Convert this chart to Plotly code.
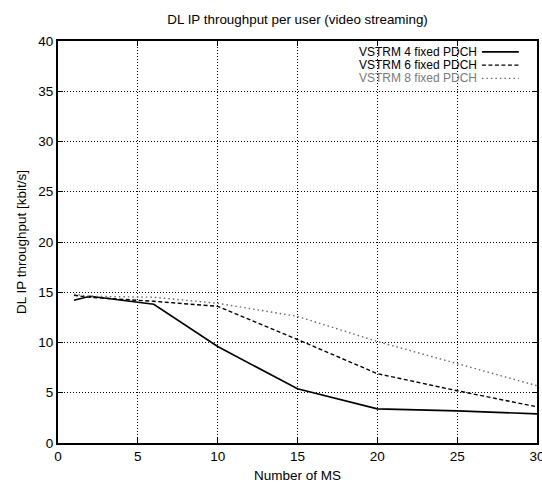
import plotly.graph_objects as go

x_ms = [1, 2, 6, 10, 15, 20, 25, 30]
vstrm4 = [14.2, 14.6, 13.8, 9.6, 5.4, 3.4, 3.2, 2.9]
vstrm6 = [14.7, 14.5, 14.1, 13.6, 10.3, 6.9, 5.2, 3.6]
vstrm8 = [14.8, 14.6, 14.5, 13.9, 12.6, 10.1, 7.9, 5.7]
names = ["VSTRM 4 fixed PDCH", "VSTRM 6 fixed PDCH", "VSTRM 8 fixed PDCH"]
x_ticks = [0, 5, 10, 15, 20, 25, 30]
y_ticks = [0, 5, 10, 15, 20, 25, 30, 35, 40]

FONT = "Liberation Sans, Arial, sans-serif"
styles = [
    dict(color="black", width=1.6, dash="solid"),
    dict(color="black", width=1.4, dash="4px,2.5px"),
    dict(color="#6a6a6a", width=1.4, dash="1.5px,3px"),
]
text_colors = ["black", "black", "#7a7a7a"]

fig = go.Figure()
for name, ys, st in zip(names, [vstrm4, vstrm6, vstrm8], styles):
    fig.add_trace(go.Scatter(x=x_ms, y=ys, mode="lines", name=name, line=st,
                             showlegend=False))

# legend drawn gnuplot-style: text right-aligned, sample line to the right
row_y = [0.973, 0.940, 0.907]
for name, ry, st, tc in zip(names, row_y, styles, text_colors):
    fig.add_annotation(xref="paper", yref="paper", x=0.876, y=ry, text=name,
                       showarrow=False, xanchor="right", yanchor="middle",
                       borderpad=0,
                       font=dict(family=FONT, size=12, color=tc))
    fig.add_shape(type="line", xref="paper", yref="paper", x0=0.885, x1=0.962,
                  y0=ry, y1=ry, line=st)

axis_common = dict(
    showline=True, linecolor="black", linewidth=2, mirror="allticks",
    ticks="inside", ticklen=5, tickcolor="black", tickwidth=1,
    showgrid=True, gridcolor="black", gridwidth=1, griddash="1px,2px",
    zeroline=False, ticklabeloverflow="allow", automargin=False,
    tickfont=dict(family=FONT, size=13.5, color="black"),
    title_font=dict(family=FONT, size=13.5, color="black"),
)

fig.update_layout(
    width=542, height=483,
    margin=dict(l=58, r=5, t=41, b=40),
    paper_bgcolor="white", plot_bgcolor="white",
    title=dict(text="DL IP throughput per user (video streaming)",
               font=dict(family=FONT, size=13.4, color="black"),
               x=0.549, xanchor="center", y=0.960, yanchor="middle"),
    xaxis=dict(range=[0, 30], tickvals=x_ticks, title=dict(text="Number of MS", standoff=11),
               **axis_common),
    yaxis=dict(range=[0, 40], tickvals=y_ticks,
               title=dict(text="DL IP throughput [kbit/s]", standoff=9),
               **axis_common),
)

fig.write_html("out.html")
